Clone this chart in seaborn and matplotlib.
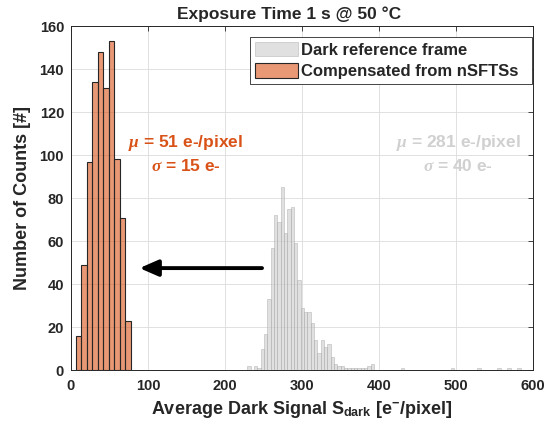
import matplotlib
matplotlib.use("Agg")
import numpy as np
import pandas as pd
import matplotlib.pyplot as plt
import seaborn as sns
from matplotlib.patches import Patch

# ---------------- data ----------------
title = "Exposure Time 1 s @ 50 °C"
x_label = r"Average Dark Signal S$_{\mathbf{dark}}$ [e$^{\mathbf{-}}$/pixel]"
y_label = "Number of Counts [#]"
legend_labels = ["Dark reference frame", "Compensated from nSFTSs"]

orange_bin_start = 6.5
orange_bin_width = 7.14
orange_counts = [16, 49, 97, 134, 148, 131, 153, 98, 71, 23]

gray_bin_start = 224.5
gray_bin_width = 4.33
gray_counts = [0, 2, 0, 2, 1, 10, 17, 33, 57, 72,
               69, 85, 64, 75, 76, 59, 42, 29, 27, 27,
               22, 14, 8, 14, 11, 12, 6, 3, 2, 2,
               1, 1, 1, 1, 1, 1, 1, 2, 3, 0,
               0, 0, 0, 0, 0, 0, 0, 1, 0, 0,
               0, 0, 0, 0, 0, 0, 0, 0, 0, 0,
               0, 0, 1, 0, 0, 0, 0, 0, 0, 0,
               1, 0, 0, 0, 0, 0, 1, 0, 0, 1,
               0, 0, 1]

stats_orange = [r"$\mu$ = 51 e-/pixel", r"$\sigma$ = 15 e-"]
stats_gray = [r"$\mu$ = 281 e-/pixel", r"$\sigma$ = 40 e-"]

x_ticks = [0, 100, 200, 300, 400, 500, 600]
y_ticks = [0, 20, 40, 60, 80, 100, 120, 140, 160]

# ---------------- style ----------------
sns.set_theme(style="white")
plt.rcParams.update({
    "font.family": ["Liberation Sans", "DejaVu Sans"],
    "font.weight": "bold",
    "axes.labelweight": "bold",
    "axes.titleweight": "bold",
    "mathtext.fontset": "custom",
    "mathtext.rm": "Liberation Sans:bold",
    "mathtext.bf": "Liberation Sans:bold",
    "mathtext.it": "Liberation Serif:italic",
    "xtick.direction": "in",
    "ytick.direction": "in",
})

orange_face = (0.85, 0.325, 0.098, 0.6)
gray_face = (0.80, 0.80, 0.80, 0.6)
orange_text = "#D95319"
gray_text = "#D0D0D0"

fig = plt.figure(figsize=(5.5, 4.37), dpi=100)
ax = fig.add_axes([0.129, 0.1526, 0.8405, 0.7879])

def edges(start, width, n):
    return [float(v) for v in start + width * np.arange(n + 1)]

g_edges = edges(gray_bin_start, gray_bin_width, len(gray_counts))
o_edges = edges(orange_bin_start, orange_bin_width, len(orange_counts))
gray_df = pd.DataFrame({"x": [(a + b) / 2 for a, b in zip(g_edges[:-1], g_edges[1:])],
                        "w": gray_counts})
orange_df = pd.DataFrame({"x": [(a + b) / 2 for a, b in zip(o_edges[:-1], o_edges[1:])],
                          "w": orange_counts})

sns.histplot(data=gray_df, x="x", weights="w", bins=g_edges, ax=ax,
             facecolor=gray_face, edgecolor=(0.65, 0.65, 0.65, 0.6),
             linewidth=0.5)
sns.histplot(data=orange_df, x="x", weights="w", bins=o_edges, ax=ax,
             facecolor=orange_face, edgecolor="#262626", linewidth=0.8)

ax.set_xlim(0, 600)
ax.set_ylim(0, 160)
ax.set_xticks(x_ticks)
ax.set_yticks(y_ticks)
ax.tick_params(axis="both", labelsize=10.5, length=3.5, width=0.6,
               top=True, right=True, color="#262626", pad=5)
ax.tick_params(axis="x", pad=6.5)
for lab in ax.get_xticklabels() + ax.get_yticklabels():
    lab.set_fontweight("bold")

ax.grid(True, color="#DCDCDC", linewidth=0.6)
ax.set_axisbelow(True)
for s in ax.spines.values():
    s.set_color("#262626")
    s.set_linewidth(0.7)
    s.set_visible(True)

ax.set_title(title, fontsize=12.5, fontweight="bold", pad=5, x=0.472)
ax.set_xlabel(x_label, fontsize=13, fontweight="bold", labelpad=4)
ax.set_ylabel(y_label, fontsize=13, fontweight="bold", labelpad=6)

# stats text
ax.text(149, 105.5, stats_orange[0], color=orange_text, fontsize=12.5,
        fontweight="bold", ha="center", va="center")
ax.text(149, 95, stats_orange[1], color=orange_text, fontsize=12.5,
        fontweight="bold", ha="center", va="center")
ax.text(503, 105.5, stats_gray[0], color=gray_text, fontsize=12.5,
        fontweight="bold", ha="center", va="center")
ax.text(503, 95, stats_gray[1], color=gray_text, fontsize=12.5,
        fontweight="bold", ha="center", va="center")

# arrow
arrow_from = (248, 47.5)
arrow_to = (89, 47.5)
ax.annotate("", xy=arrow_to, xytext=arrow_from,
            arrowprops=dict(arrowstyle="-|>,head_length=0.8,head_width=0.35",
                            mutation_scale=14, lw=2.8, color="black",
                            shrinkA=0, shrinkB=0))

handles = [Patch(facecolor=gray_face, edgecolor=(0.65, 0.65, 0.65, 0.6), linewidth=0.5),
           Patch(facecolor=orange_face, edgecolor="#262626", linewidth=0.8)]
leg = ax.legend(handles, [lbl + "  " for lbl in legend_labels], loc="upper right",
                bbox_to_anchor=(0.998, 0.969), borderaxespad=0,
                fontsize=12, frameon=True, fancybox=False, framealpha=1,
                edgecolor="#262626", handlelength=2.6, handleheight=0.95,
                handletextpad=0.15, borderpad=0.3, labelspacing=0.35)
leg.get_frame().set_linewidth(0.6)
for t in leg.get_texts():
    t.set_fontweight("bold")

fig.savefig("out.png", dpi=100)
